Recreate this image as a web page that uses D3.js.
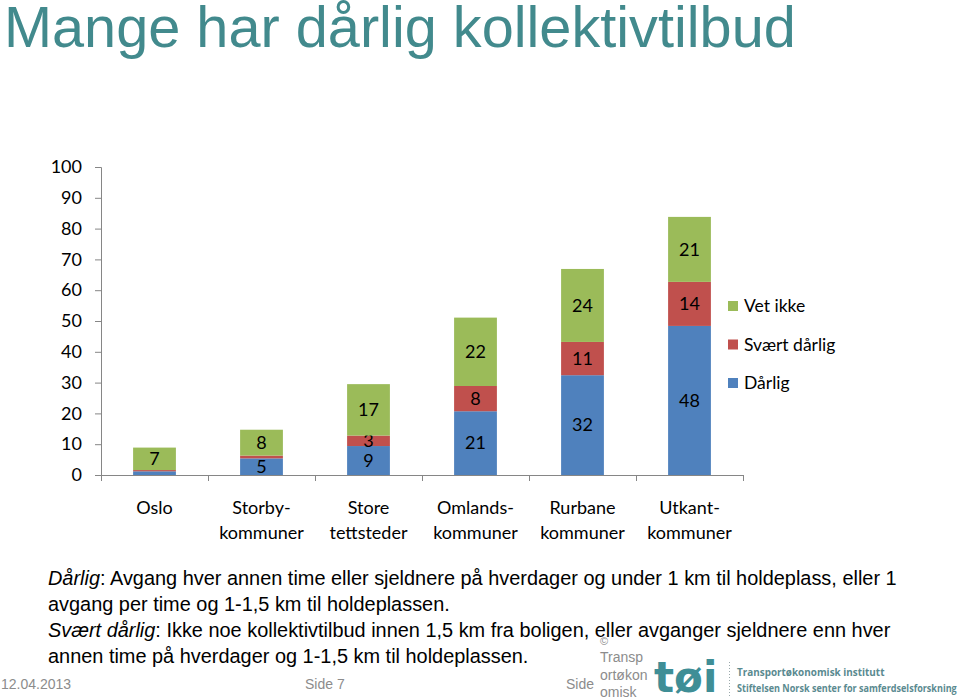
<!DOCTYPE html>
<html>
<head>
<meta charset="utf-8">
<script src="https://cdn.jsdelivr.net/npm/d3@7"></script>
<style>
  body { margin: 0; background: #fff; }
  svg { display: block; }
</style>
</head>
<body>
<div id="chart"></div>
<script>
const width = 960, height = 699;

// data
const categories = ["Oslo", "Storbykommuner", "Store tettsteder", "Omlandskommuner", "Rurbane kommuner", "Utkantkommuner"];
const categoryLines = [["Oslo"], ["Storby-", "kommuner"], ["Store", "tettsteder"], ["Omlands-", "kommuner"], ["Rurbane", "kommuner"], ["Utkant-", "kommuner"]];
const darlig = [1.2, 5.4, 9.4, 20.7, 32.4, 48.4];
const svaertDarlig = [0.4, 0.9, 3.4, 8.2, 10.8, 14.3];
const vetIkke = [7.3, 8.4, 16.7, 22.2, 23.7, 21.1];
const seriesNames = ["Dårlig", "Svært dårlig", "Vet ikke"];
const seriesColors = ["#4f81bd", "#c0504d", "#9bbb59"];
const yTicks = [0, 10, 20, 30, 40, 50, 60, 70, 80, 90, 100];

const notes = [
  [["Dårlig", true], [": Avgang hver annen time eller sjeldnere på hverdager og under 1 km til holdeplass, eller 1", false]],
  [["avgang per time og 1-1,5 km til holdeplassen.", false]],
  [["Svært dårlig", true], [": Ikke noe kollektivtilbud innen 1,5 km fra boligen, eller avganger sjeldnere enn hver", false]],
  [["annen time på hverdager og 1-1,5 km til holdeplassen.", false]]
];

const svg = d3.select("#chart").append("svg")
  .attr("width", width)
  .attr("height", height);

// squeeze a text horizontally so it spans w pixels from x0
function fitWidth(sel, x0, w) {
  const len = sel.node().getBBox().width;
  const s = w / len;
  sel.attr("transform", `translate(${x0 - x0 * s},0) scale(${s},1)`);
}

// title
const title = svg.append("text")
  .attr("x", 4)
  .attr("y", 47)
  .attr("font-family", "'Liberation Sans', Arial, sans-serif")
  .attr("font-size", 58)
  .attr("fill", "#428a8d")
  .text("Mange har dårlig kollektivtilbud");
fitWidth(title, 4, 792);

const chartFont = "Lato, 'Open Sans', sans-serif";

const x = d3.scaleBand()
  .domain(categories)
  .range([101, 743])
  .paddingInner(0.6)
  .paddingOuter(0.3);

const y = d3.scaleLinear()
  .domain([0, 100])
  .range([475, 167]);

const table = categories.map((c, i) => ({
  cat: c,
  "Dårlig": darlig[i],
  "Svært dårlig": svaertDarlig[i],
  "Vet ikke": vetIkke[i]
}));

const stack = d3.stack().keys(seriesNames)(table);
const color = d3.scaleOrdinal().domain(seriesNames).range(seriesColors);

// y axis
const yAxis = svg.append("g")
  .attr("transform", "translate(101,0)")
  .call(d3.axisLeft(y).tickValues(yTicks).tickSize(6).tickPadding(13));
yAxis.select(".domain").attr("stroke", "#868686");
yAxis.selectAll(".tick line").attr("stroke", "#868686");
yAxis.selectAll(".tick text")
  .attr("font-family", chartFont)
  .attr("font-size", 18)
  .attr("fill", "#000");

// bars
const layers = svg.append("g").selectAll("g")
  .data(stack)
  .enter().append("g")
  .attr("fill", d => color(d.key));

layers.selectAll("rect")
  .data(d => d)
  .enter().append("rect")
  .attr("x", d => x(d.data.cat))
  .attr("y", d => y(d[1]))
  .attr("width", x.bandwidth())
  .attr("height", d => y(d[0]) - y(d[1]));

// value labels
layers.selectAll("text")
  .data(d => d.filter(p => p[1] - p[0] >= 2))
  .enter().append("text")
  .attr("x", d => x(d.data.cat) + x.bandwidth() / 2)
  .attr("y", d => y((d[0] + d[1]) / 2))
  .attr("dy", "0.35em")
  .attr("text-anchor", "middle")
  .attr("font-family", chartFont)
  .attr("font-size", 18)
  .attr("fill", "#000")
  .text(d => Math.round(d[1] - d[0]));

// x axis with ticks on category boundaries
const xAxis = svg.append("g");
xAxis.append("line")
  .attr("x1", 96).attr("x2", 743)
  .attr("y1", y(0) + 0.5).attr("y2", y(0) + 0.5)
  .attr("stroke", "#868686");
const gap = x.step() - x.bandwidth();
const bounds = categories.map(c => x(c) - gap / 2).concat([x.range()[1]]);
xAxis.selectAll(".bt")
  .data(bounds)
  .enter().append("line")
  .attr("x1", d => Math.round(d) + 0.5).attr("x2", d => Math.round(d) + 0.5)
  .attr("y1", y(0)).attr("y2", y(0) + 6)
  .attr("stroke", "#868686");

const xLabels = xAxis.selectAll(".xl")
  .data(categories)
  .enter().append("text")
  .attr("text-anchor", "middle")
  .attr("font-family", chartFont)
  .attr("font-size", 18)
  .attr("fill", "#000");
xLabels.each(function(c, i) {
  d3.select(this).selectAll("tspan")
    .data(categoryLines[i])
    .enter().append("tspan")
    .attr("x", x(c) + x.bandwidth() / 2)
    .attr("y", (d, j) => 514 + j * 25)
    .text(d => d);
});

// legend
const legend = svg.append("g").attr("transform", "translate(728,0)");
const legendItems = seriesNames.slice().reverse();
legendItems.forEach((name, i) => {
  const cy = 306 + i * 38.5;
  legend.append("rect")
    .attr("x", 0).attr("y", cy - 5)
    .attr("width", 10).attr("height", 10)
    .attr("fill", color(name));
  legend.append("text")
    .attr("x", 16).attr("y", cy)
    .attr("dy", "0.35em")
    .attr("font-family", chartFont)
    .attr("font-size", 17.5)
    .attr("fill", "#000")
    .text(name);
});

// footnote
const noteFont = "'Liberation Sans', Arial, sans-serif";
const noteG = svg.append("g");
notes.forEach((parts, i) => {
  const t = noteG.append("text")
    .attr("x", 48)
    .attr("y", 585 + i * 26)
    .attr("font-family", noteFont)
    .attr("font-size", 19.5)
    .attr("fill", "#000");
  parts.forEach(p => {
    t.append("tspan")
      .attr("font-style", p[1] ? "italic" : "normal")
      .text(p[0]);
  });
});
// squeeze lines to the slide's narrow type
const full = noteG.select("text").node().getComputedTextLength();
const sx = 849 / full;
noteG.attr("transform", `translate(${48 - 48 * sx},0) scale(${sx},1)`);

// footer
const footFont = "'Liberation Sans', Arial, sans-serif";
const foot = svg.append("g")
  .attr("font-family", footFont)
  .attr("fill", "#8c8c8c");
foot.append("text").attr("x", 1).attr("y", 689).attr("font-size", 14).text("12.04.2013");
foot.append("text").attr("x", 305).attr("y", 689).attr("font-size", 14).text("Side 7");
foot.append("text").attr("x", 566).attr("y", 689).attr("font-size", 14).text("Side");
foot.append("text").attr("x", 600).attr("y", 645).attr("font-size", 11).text("©");
foot.append("text").attr("x", 600).attr("y", 662).attr("font-size", 14).text("Transp");
foot.append("text").attr("x", 600).attr("y", 680).attr("font-size", 14).text("ortøkon");
foot.append("text").attr("x", 600).attr("y", 697).attr("font-size", 14).text("omisk");

// logo
svg.append("text")
  .attr("x", 654).attr("y", 692)
  .attr("font-family", "'DejaVu Sans', sans-serif")
  .attr("font-weight", "bold")
  .attr("font-size", 42)
  .attr("fill", "#3f8e96")
  .text("tøi");
svg.append("line")
  .attr("x1", 729.5).attr("x2", 729.5)
  .attr("y1", 662).attr("y2", 696)
  .attr("stroke", "#9aa9ab")
  .attr("stroke-dasharray", "1,2");
const logoText = svg.append("g")
  .attr("font-family", "'Open Sans', sans-serif")
  .attr("font-weight", "bold")
  .attr("font-size", 10.5)
  .attr("fill", "#5a8a90");
const l1 = logoText.append("text").attr("x", 737).attr("y", 676)
  .text("Transportøkonomisk institutt");
const l2 = logoText.append("text").attr("x", 737).attr("y", 692)
  .text("Stiftelsen Norsk senter for samferdselsforskning");
fitWidth(l1, 737, 148);
fitWidth(l2, 737, 220);
</script>
</body>
</html>
